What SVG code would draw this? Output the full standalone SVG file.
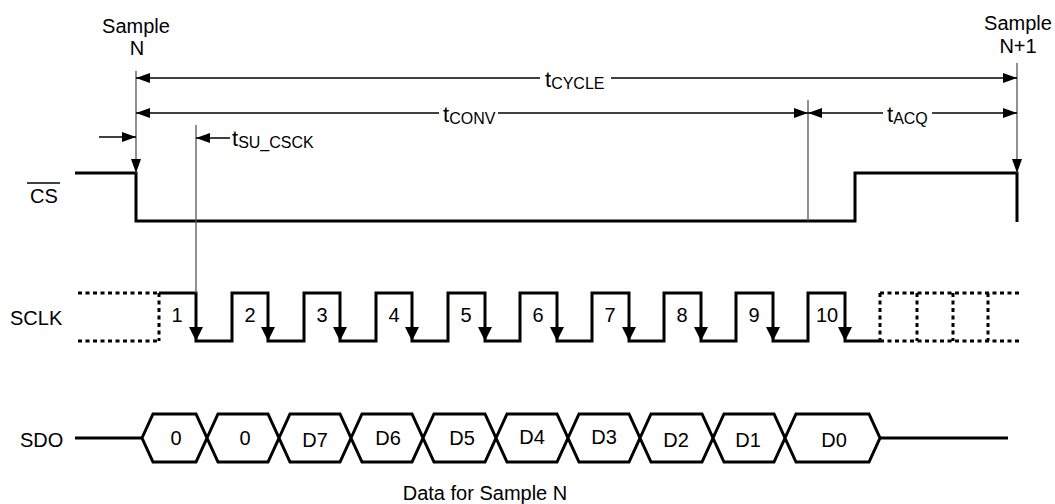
<svg xmlns="http://www.w3.org/2000/svg" width="1055" height="504" viewBox="0 0 1055 504">
<style>
text{font-family:"Liberation Sans",Arial,sans-serif;fill:#000}
.lbl{font-size:20px}
.mid{text-anchor:middle}
.t{font-size:22px}
.sub{font-size:16px}
.thick{fill:none;stroke:#000;stroke-width:3}
.dash{fill:none;stroke:#000;stroke-width:3;stroke-dasharray:4 3.5}
.guide{fill:none;stroke:#555;stroke-width:1.3}
.dim{fill:none;stroke:#000;stroke-width:1.3}
.hex{fill:#fff;stroke:#000;stroke-width:3;stroke-linejoin:miter}
</style>
<defs>
<marker id="ah" markerUnits="userSpaceOnUse" markerWidth="15" markerHeight="11" refX="14" refY="5" orient="auto-start-reverse" viewBox="0 0 15 11">
<path d="M0,0 L14,5 L0,10 z" fill="#000"/>
</marker>
<path id="dn" d="M-7,-14 L7,-14 L0,0 z" fill="#000"/>
</defs>

<g id="signal-labels">
<text class="lbl mid" x="44" y="203">CS</text>
<line x1="27" y1="183" x2="60" y2="183" stroke="#000" stroke-width="1.6"/>
<text class="lbl" x="10" y="325">SCLK</text>
<text class="lbl" x="20" y="447">SDO</text>
</g>

<g id="sample-labels">
<text class="lbl mid" x="136" y="33">Sample</text>
<text class="lbl mid" x="137" y="55">N</text>
<text class="lbl mid" x="1018" y="30">Sample</text>
<text class="lbl mid" x="1018" y="53">N+1</text>
</g>

<g id="cs">
<path class="thick" d="M75,173 H136 V221 H855 V173 H1017 V222"/>
</g>

<g id="sclk">
<path class="dash" d="M78,293 H159 M78,341 H159 M159,293 V341"/>
<path class="thick" d="M159,293 H196 V341 H232 V293 H268 V341 H304 V293 H340 V341 H376 V293 H412 V341 H448 V293 H485 V341 H520 V293 H557 V341 H592 V293 H629 V341 H664 V293 H701 V341 H736 V293 H773 V341 H808 V293 H845 V341 H880"/>
<path class="dash" d="M880,293 H1020 M880,341 H1020 M880,293 V341 M917,293 V341 M953,293 V341 M988,293 V341"/>
<use href="#dn" x="196" y="341"/>
<use href="#dn" x="268" y="341"/>
<use href="#dn" x="340" y="341"/>
<use href="#dn" x="412" y="341"/>
<use href="#dn" x="485" y="341"/>
<use href="#dn" x="557" y="341"/>
<use href="#dn" x="629" y="341"/>
<use href="#dn" x="701" y="341"/>
<use href="#dn" x="773" y="341"/>
<use href="#dn" x="845" y="341"/>
<text class="lbl mid" x="177" y="322">1</text>
<text class="lbl mid" x="250" y="322">2</text>
<text class="lbl mid" x="322" y="322">3</text>
<text class="lbl mid" x="394" y="322">4</text>
<text class="lbl mid" x="466" y="322">5</text>
<text class="lbl mid" x="538" y="322">6</text>
<text class="lbl mid" x="610" y="322">7</text>
<text class="lbl mid" x="682" y="322">8</text>
<text class="lbl mid" x="754" y="322">9</text>
<text class="lbl mid" x="827" y="322">10</text>
</g>

<g id="sdo">
<path class="thick" d="M75,438 H142 M880,438 H1008"/>
<polygon class="hex" points="142,438 153,414 196,414 207,438 196,462 153,462"/>
<polygon class="hex" points="207,438 218,414 268,414 279,438 268,462 218,462"/>
<polygon class="hex" points="279,438 290,414 340,414 351,438 340,462 290,462"/>
<polygon class="hex" points="351,438 362,414 412,414 423,438 412,462 362,462"/>
<polygon class="hex" points="423,438 434,414 485,414 496,438 485,462 434,462"/>
<polygon class="hex" points="496,438 507,414 557,414 568,438 557,462 507,462"/>
<polygon class="hex" points="568,438 579,414 629,414 640,438 629,462 579,462"/>
<polygon class="hex" points="640,438 651,414 702,414 713,438 702,462 651,462"/>
<polygon class="hex" points="713,438 724,414 774,414 785,438 774,462 724,462"/>
<polygon class="hex" points="785,438 796,414 869,414 880,438 869,462 796,462"/>
<text class="lbl mid" x="176" y="445">0</text>
<text class="lbl mid" x="245" y="445">0</text>
<text class="lbl mid" x="315" y="447">D7</text>
<text class="lbl mid" x="388" y="445">D6</text>
<text class="lbl mid" x="462" y="445">D5</text>
<text class="lbl mid" x="532" y="444">D4</text>
<text class="lbl mid" x="604" y="444">D3</text>
<text class="lbl mid" x="676" y="447">D2</text>
<text class="lbl mid" x="748" y="447">D1</text>
<text class="lbl mid" x="834" y="447">D0</text>
<text class="lbl mid" x="485" y="500">Data for Sample N</text>
</g>

<g id="connectors">
<line class="guide" x1="136" y1="71" x2="136" y2="173" marker-end="url(#ah)"/>
<line class="guide" x1="1017" y1="63" x2="1017" y2="173" marker-end="url(#ah)"/>
<line class="guide" x1="808" y1="100" x2="808" y2="221"/>
<line class="guide" x1="196" y1="125" x2="196" y2="293"/>
<line class="dim" x1="136" y1="78" x2="540" y2="78" marker-start="url(#ah)"/>
<line class="dim" x1="611" y1="78" x2="1017" y2="78" marker-end="url(#ah)"/>
<line class="dim" x1="136" y1="113" x2="439" y2="113" marker-start="url(#ah)"/>
<line class="dim" x1="498" y1="113" x2="808" y2="113" marker-end="url(#ah)"/>
<line class="dim" x1="808" y1="113" x2="883" y2="113" marker-start="url(#ah)"/>
<line class="dim" x1="932" y1="113" x2="1017" y2="113" marker-end="url(#ah)"/>
<line class="dim" x1="99" y1="137" x2="136" y2="137" marker-end="url(#ah)"/>
<line class="dim" x1="230" y1="138" x2="196" y2="138" marker-end="url(#ah)"/>
<text class="t" x="545" y="87">t<tspan class="sub" dy="2">CYCLE</tspan></text>
<text class="t" x="443" y="122">t<tspan class="sub" dy="2">CONV</tspan></text>
<text class="t" x="887" y="122">t<tspan class="sub" dy="2">ACQ</tspan></text>
<text class="t" x="232" y="146">t<tspan class="sub" dy="2">SU_CSCK</tspan></text>
</g>
</svg>
